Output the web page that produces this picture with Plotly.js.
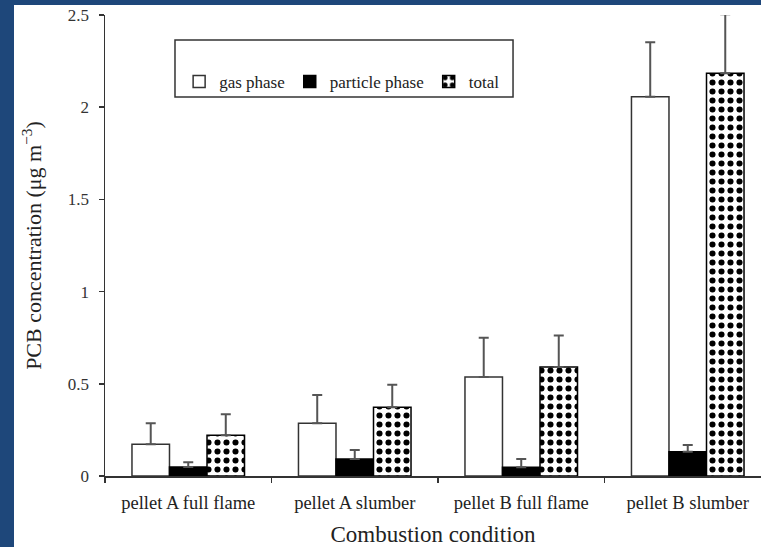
<!DOCTYPE html>
<html>
<head>
<meta charset="utf-8">
<script src="https://cdn.plot.ly/plotly-3.0.1.min.js"></script>
<style>
  html, body { margin: 0; padding: 0; background: #1e477a; width: 761px; height: 547px; overflow: hidden; }
  #chart { position: absolute; left: 14px; top: 5px; width: 747px; height: 542px; background: #fff; }
</style>
</head>
<body>
<div id="chart"></div>
<script>
const categories = ["pellet A full flame", "pellet A slumber", "pellet B full flame", "pellet B slumber"];
const seriesNames = ["gas phase", "particle phase", "total"];
const gasPhase = [0.172, 0.286, 0.537, 2.057];
const gasPhaseErr = [0.114, 0.153, 0.213, 0.295];
const particlePhase = [0.049, 0.092, 0.047, 0.132];
const particlePhaseErr = [0.025, 0.049, 0.045, 0.036];
const total = [0.221, 0.373, 0.591, 2.184];
const totalErr = [0.114, 0.122, 0.171, 0.32];
const yTickVals = [0, 0.5, 1, 1.5, 2, 2.5];
const yTickText = ["0", "0.5", "1", "1.5", "2", "2.5"];

const serif = "Liberation Serif, Times New Roman, serif";
const lineCol = "#333333";
const zeros = categories.map(() => 0);

function errObj(arr) {
  return { type: "data", symmetric: false, array: arr, arrayminus: zeros,
           color: "#555555", thickness: 2, width: 5 };
}

const traces = [
  { type: "bar", name: seriesNames[0], x: categories, y: gasPhase, cliponaxis: false,
    marker: { color: "#ffffff", line: { color: lineCol, width: 1.5 } },
    error_y: errObj(gasPhaseErr) },
  { type: "bar", name: seriesNames[1], x: categories, y: particlePhase, cliponaxis: false,
    marker: { color: "#000000", line: { color: "#000000", width: 1.5 } },
    error_y: errObj(particlePhaseErr) },
  { type: "bar", name: seriesNames[2], x: categories, y: total, cliponaxis: false,
    marker: { color: "#ffffff", line: { color: "#000000", width: 1.5 },
              pattern: { shape: ".", fgcolor: "#000000", bgcolor: "#ffffff", size: 9, solidity: 0.36, fillmode: "replace" } },
    error_y: errObj(totalErr) }
];

const layout = {
  width: 747, height: 542,
  margin: { l: 91, r: 0, t: 10, b: 71 },
  paper_bgcolor: "#ffffff", plot_bgcolor: "#ffffff",
  barmode: "group", bargap: 0.324, bargroupgap: 0,
  font: { family: serif, color: "#222222" },
  showlegend: true,
  legend: { orientation: "h", x: 0.113, xanchor: "left", y: 0.855, yanchor: "middle",
            bgcolor: "rgba(0,0,0,0)", borderwidth: 0, font: { family: serif, size: 17, color: "#222" },
            itemwidth: 30, traceorder: "normal" },
  shapes: [
    { type: "rect", xref: "paper", yref: "paper", x0: 0.1067, x1: 0.622, y0: 0.822, y1: 0.946,
      line: { color: lineCol, width: 1.5 }, fillcolor: "rgba(0,0,0,0)" }
  ],
  xaxis: {
    type: "category", range: [-0.5, 3.44], tickson: "boundaries",
    showline: true, linecolor: lineCol, linewidth: 1.5,
    ticks: "outside", ticklen: 5, tickcolor: lineCol, tickwidth: 1.5,
    showgrid: false, zeroline: false, ticklabelstandoff: 9,
    tickfont: { family: serif, size: 18.5, color: "#222" },
    title: { text: "Combustion condition", font: { family: serif, size: 23, color: "#222" }, standoff: 16 },
    automargin: false
  },
  yaxis: {
    range: [0, 2.5], tickvals: yTickVals, ticktext: yTickText,
    showline: true, linecolor: lineCol, linewidth: 1.5,
    ticks: "outside", ticklen: 5, tickcolor: lineCol, tickwidth: 1.5,
    showgrid: false, zeroline: false, ticklabelstandoff: 6,
    tickfont: { family: serif, size: 17, color: "#333" },
    title: { text: "PCB concentration (μg m<sup>−3</sup>)", font: { family: serif, size: 22, color: "#222" }, standoff: 20 },
    automargin: false
  }
};

Plotly.newPlot("chart", traces, layout, { displayModeBar: false, staticPlot: true });
</script>
</body>
</html>
